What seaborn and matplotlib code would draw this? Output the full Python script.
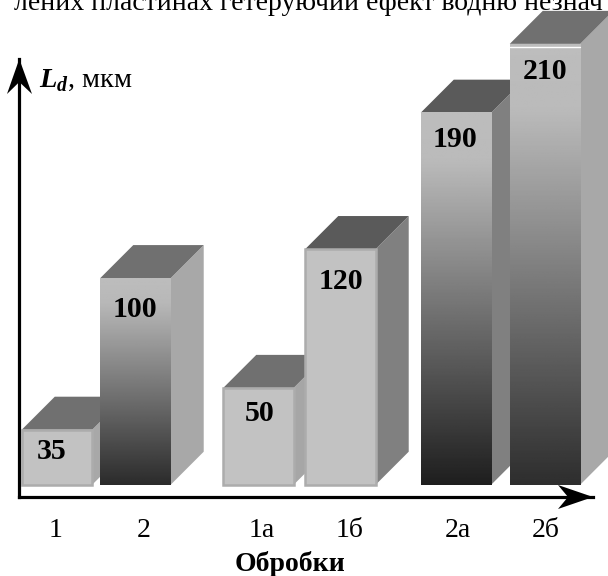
import numpy as np
import matplotlib
matplotlib.use("Agg")
import matplotlib.pyplot as plt
from matplotlib.patches import Polygon
import seaborn as sns

categories = ["1", "2", "1а", "1б", "2а", "2б"]
# numbers printed on the bars
values = [35, 100, 50, 120, 190, 210]
# drawn height of each bar, the picture is not to scale with its numbers
bar_heights = [26.7, 100.3, 47.0, 114.4, 180.6, 214.0]

W, H = 608, 576
AX_L, AX_R, AX_T, AX_B = 19, 593, 59, 497
BASE_Y = 484.7
PX = 2.06  # pixels per y unit
DEPTH = 33

bar_x = [57, 135.5, 258.5, 340.5, 456, 545]
tick_x = [56, 144, 262, 350, 458, 546]
label_shift = [(-5, -19), (-1, -29), (1, -23), (0, -30), (-1, -24), (0, -25)]
front = ["#c2c2c2", None, "#c2c2c2", "#c2c2c2", None, None]
edge = ["#acacac", None, "#acacac", "#acacac", None, None]
side = ["#a8a8a8", "#a8a8a8", "#a6a6a6", "#808080", "#808080", "#a8a8a8"]
top = ["#707070", "#707070", "#707070", "#5a5a5a", "#5a5a5a", "#707070"]
# (fraction down the bar, grey level)
fades = {
    1: [(0, 0.74), (0.12, 0.72), (1, 0.17)],
    4: [(0, 0.74), (0.13, 0.73), (1, 0.12)],
    5: [(0, 0.74), (0.15, 0.73), (1, 0.18)],
}

sns.set_theme(style="white")
plt.rcParams["font.family"] = ["Liberation Serif", "DejaVu Serif"]
plt.rcParams["mathtext.fontset"] = "custom"
plt.rcParams["mathtext.bfit"] = "Liberation Serif:italic:bold"

fig = plt.figure(figsize=(W / 100, H / 100), dpi=100)
ax = fig.add_axes([AX_L / W, 1 - AX_B / H, (AX_R - AX_L) / W, (AX_B - AX_T) / H])

sns.barplot(x=bar_x, y=bar_heights, native_scale=True, width=70 / 78,
            color="#c0c0c0", saturation=1, ax=ax)

depth_y = DEPTH / PX

for i, bar in enumerate(ax.patches):
    x0, w, h = bar.get_x(), bar.get_width(), bar.get_height()
    z = 3 + i
    bar.set_zorder(z + 0.2)
    bar.set_clip_on(False)
    ax.add_patch(Polygon([(x0 + w, 0), (x0 + w + DEPTH, depth_y), (x0 + w + DEPTH, h + depth_y), (x0 + w, h)],
                         fc=side[i], ec="none", zorder=z, clip_on=False))
    ax.add_patch(Polygon([(x0, h), (x0 + DEPTH, h + depth_y), (x0 + w + DEPTH, h + depth_y), (x0 + w, h)],
                         fc=top[i], ec="none", zorder=z + 0.1, clip_on=False))
    if front[i]:
        bar.set_facecolor(front[i])
        bar.set_edgecolor(edge[i])
        bar.set_linewidth(1.8)
    else:
        bar.set_edgecolor("none")
        bar.set_linewidth(0)
        stops = fades[i]
        t = np.linspace(0, 1, 256)
        grey = np.interp(t, [s[0] for s in stops], [s[1] for s in stops]).reshape(-1, 1)
        ax.imshow(grey, cmap="gray", vmin=0, vmax=1, aspect="auto",
                  extent=(x0, x0 + w, 0, h), zorder=z + 0.3, clip_on=False)
    dx, dy = label_shift[i]
    ax.annotate(str(values[i]), (x0 + w / 2, h), xytext=(dx * 0.72, (dy - 2.5) * 0.72),
                textcoords="offset points", ha="center", va="center",
                fontsize=21.5, fontweight="bold", color="black", zorder=30,
                annotation_clip=False)

# thin light line under the top of the last bar
last = ax.patches[5]
ax.plot([last.get_x(), last.get_x() + last.get_width()], [last.get_height() - 1.5] * 2,
        color="white", lw=1, zorder=20, clip_on=False)

ax.set_xlim(AX_L, AX_R)
ax.set_ylim(-(AX_B - BASE_Y) / PX, (BASE_Y - AX_T) / PX)

ax.set_xticks(tick_x)
ax.set_xticklabels(categories, fontsize=20, color="black")
ax.tick_params(axis="x", length=0, pad=15)
ax.set_yticks([])
ax.set_xlabel("Обробки", fontsize=20, fontweight="bold", color="black")
ax.xaxis.set_label_coords((290 - AX_L) / (AX_R - AX_L), -(551 - AX_B) / (AX_B - AX_T))

sns.despine(ax=ax, top=True, right=True)
for s in ["left", "bottom"]:
    ax.spines[s].set_linewidth(2.3)
    ax.spines[s].set_color("black")
    ax.spines[s].set_zorder(40)


def arrow(pts):
    fig.patches.append(Polygon([(x / W, 1 - y / H) for x, y in pts], closed=True, fc="black", ec="none",
                               transform=fig.transFigure, figure=fig))


arrow([(19.3, 59), (32, 94), (19.3, 82), (7, 94)])
arrow([(593, 497), (558, 485), (568, 497), (558, 509)])

fig.text(39 / W, 1 - 87 / H, r"$\mathbfit{L}_{\mathbfit{d}}$, мкм", fontsize=20.5, color="black", va="baseline")
fig.text(14 / W, 1 - 9.5 / H, "лених пластинах гетеруючий ефект водню незнач", fontsize=20,
         color="black", va="baseline")

fig.savefig("out.png", dpi=100)
